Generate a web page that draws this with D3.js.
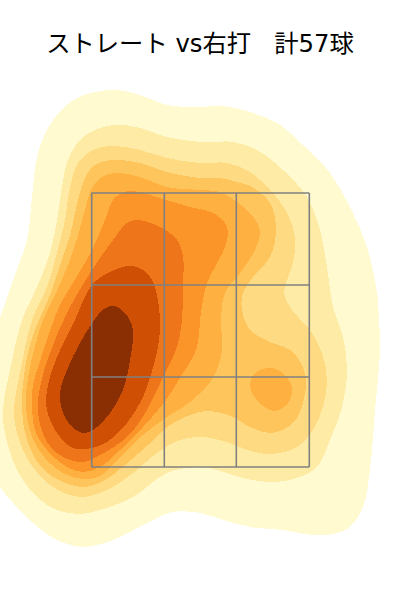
<!DOCTYPE html>
<html>
<head>
<meta charset="utf-8">
<script src="https://cdn.jsdelivr.net/npm/d3@7"></script>
<style>
  html, body { margin: 0; padding: 0; background: #fff; }
  svg { display: block; }
  text { font-family: "DejaVu Sans", "Noto Sans CJK JP", sans-serif; white-space: pre; }
</style>
</head>
<body>
<svg id="chart" width="400" height="600"></svg>
<script>
// outlines: [across, up] from the zone's lower left corner
const level1 = [[22,377],[49,372],[76,362],[109,360],[132,361],[159,355],[186,344],[212,322],[239,294],[259,260],[276,220],[286,174],[288,147],[289,117],[284,57],[279,-3],[272,-40],[259,-60],[242,-67],[222,-68],[192,-63],[159,-60],[132,-53],[109,-46],[82,-45],[56,-56],[22,-73],[-8,-80],[-34,-73],[-58,-56],[-78,-36],[-91,-20],[-101,7],[-106,67],[-101,127],[-91,150],[-78,187],[-64,227],[-59,270],[-53,314],[-38,347],[-14,369]];
const level2 = [[22,342],[49,339],[76,330],[109,325],[142,325],[166,317],[192,297],[216,270],[229,237],[236,200],[242,160],[252,130],[256,97],[251,60],[239,27],[226,0],[206,-11],[182,-15],[152,-11],[126,-3],[109,0],[76,-6],[42,-30],[9,-43],[-11,-47],[-34,-43],[-54,-30],[-74,-3],[-86,34],[-88,57],[-81,97],[-69,147],[-54,180],[-41,214],[-34,247],[-29,280],[-23,307],[-8,330]];
const level3 = [[22,321],[49,317],[76,309],[109,304],[136,304],[159,295],[179,277],[196,254],[204,230],[202,204],[196,187],[193,174],[201,157],[219,137],[231,114],[236,87],[232,60],[222,37],[206,20],[179,13],[156,17],[136,25],[109,30],[89,27],[66,14],[42,-6],[16,-23],[-11,-30],[-38,-20],[-61,4],[-74,34],[-77,57],[-71,94],[-59,147],[-44,180],[-34,214],[-26,247],[-21,280],[-13,304],[2,317]];
const level4 = [[22,307],[49,304],[76,295],[109,289],[129,289],[146,285],[159,281],[179,264],[185,237],[179,210],[162,190],[152,174],[151,157],[159,137],[179,125],[199,117],[211,102],[215,87],[212,64],[202,44],[181,34],[159,40],[142,50],[126,55],[109,55],[79,42],[57,22],[34,2],[14,-13],[-6,-20],[-26,-16],[-49,-1],[-64,27],[-69,57],[-67,92],[-61,122],[-52,147],[-41,172],[-31,202],[-21,232],[-13,267],[-6,289],[4,302]];
const level5 = [[26,294],[49,290],[76,280],[109,277],[129,275],[146,265],[159,254],[169,237],[164,217],[149,194],[134,174],[130,147],[131,117],[122,89],[99,65],[76,50],[52,32],[29,10],[9,-9],[-8,-12],[-26,-7],[-46,9],[-59,30],[-65,57],[-64,82],[-57,117],[-48,147],[-36,172],[-23,202],[-13,232],[-6,257],[0,277],[9,289]];
const level5Blob = [[159,82],[164,94],[179,99],[192,94],[201,79],[197,64],[184,56],[171,62],[162,72]];
const level6 = [[42,276],[72,268],[99,260],[122,254],[134,244],[137,234],[134,220],[126,204],[116,184],[112,167],[109,147],[108,132],[104,114],[92,94],[75,67],[52,40],[29,17],[9,0],[-8,-5],[-24,0],[-44,17],[-56,37],[-59,67],[-58,82],[-49,112],[-39,142],[-31,162],[-15,189],[1,217],[14,247],[22,267],[31,274]];
const level7 = [[47,247],[69,240],[86,227],[92,210],[92,180],[91,147],[86,120],[72,90],[56,57],[36,30],[9,12],[-8,5],[-28,10],[-44,25],[-53,54],[-51,80],[-41,114],[-24,154],[1,197],[22,227],[36,244]];
const level8 = [[41,201],[56,194],[64,180],[69,147],[68,127],[64,107],[52,70],[36,44],[16,25],[1,19],[-18,19],[-34,34],[-44,57],[-44,77],[-34,110],[-17,145],[1,182],[19,195]];
const level9 = [[24,161],[13,158],[2,145],[-11,124],[-24,97],[-31,74],[-29,57],[-21,42],[-8,34],[2,37],[19,54],[32,77],[39,107],[42,137],[37,150]];

const levelColors = ['#fffad0', '#feeba5', '#feda82', '#fec55d', '#feb040', '#fc9529', '#ee7519', '#cf4f05', '#8a2f04'];
const levelShapes = [[level1], [level2], [level3], [level4], [level5, level5Blob], [level6], [level7], [level8], [level9]];

const zoneAcross = [0.7, 73.3, 145.3, 218.3];
const zoneUp = [0, 90, 182, 274];

const titleText = 'ストレート vs右打   計57球';

const svg = d3.select('#chart');

const x = d3.scaleLinear().domain([0, 218]).range([91, 309]);
const y = d3.scaleLinear().domain([0, 274]).range([467, 193]);

const outline = d3.line()
  .x(d => x(d[0]))
  .y(d => y(d[1]))
  .curve(d3.curveCatmullRomClosed.alpha(0.5));

// filled density bands, lightest first
levelShapes.forEach((shapes, i) => {
  svg.append('g')
    .selectAll('path')
    .data(shapes)
    .enter()
    .append('path')
    .attr('d', outline)
    .attr('fill', levelColors[i])
    .attr('shape-rendering', 'crispEdges');
});

// strike zone grid
const grid = svg.append('g').attr('stroke', '#808080').attr('stroke-width', 1.6);

zoneAcross.forEach(v => {
  grid.append('line')
    .attr('x1', x(v)).attr('x2', x(v))
    .attr('y1', y(zoneUp[0])).attr('y2', y(zoneUp[3]));
});

zoneUp.forEach(v => {
  grid.append('line')
    .attr('x1', x(zoneAcross[0])).attr('x2', x(zoneAcross[3]))
    .attr('y1', y(v)).attr('y2', y(v));
});

svg.append('text')
  .attr('x', 200)
  .attr('y', 52)
  .attr('text-anchor', 'middle')
  .attr('font-size', 24.3)
  .attr('fill', '#000')
  .text(titleText);
</script>
</body>
</html>
